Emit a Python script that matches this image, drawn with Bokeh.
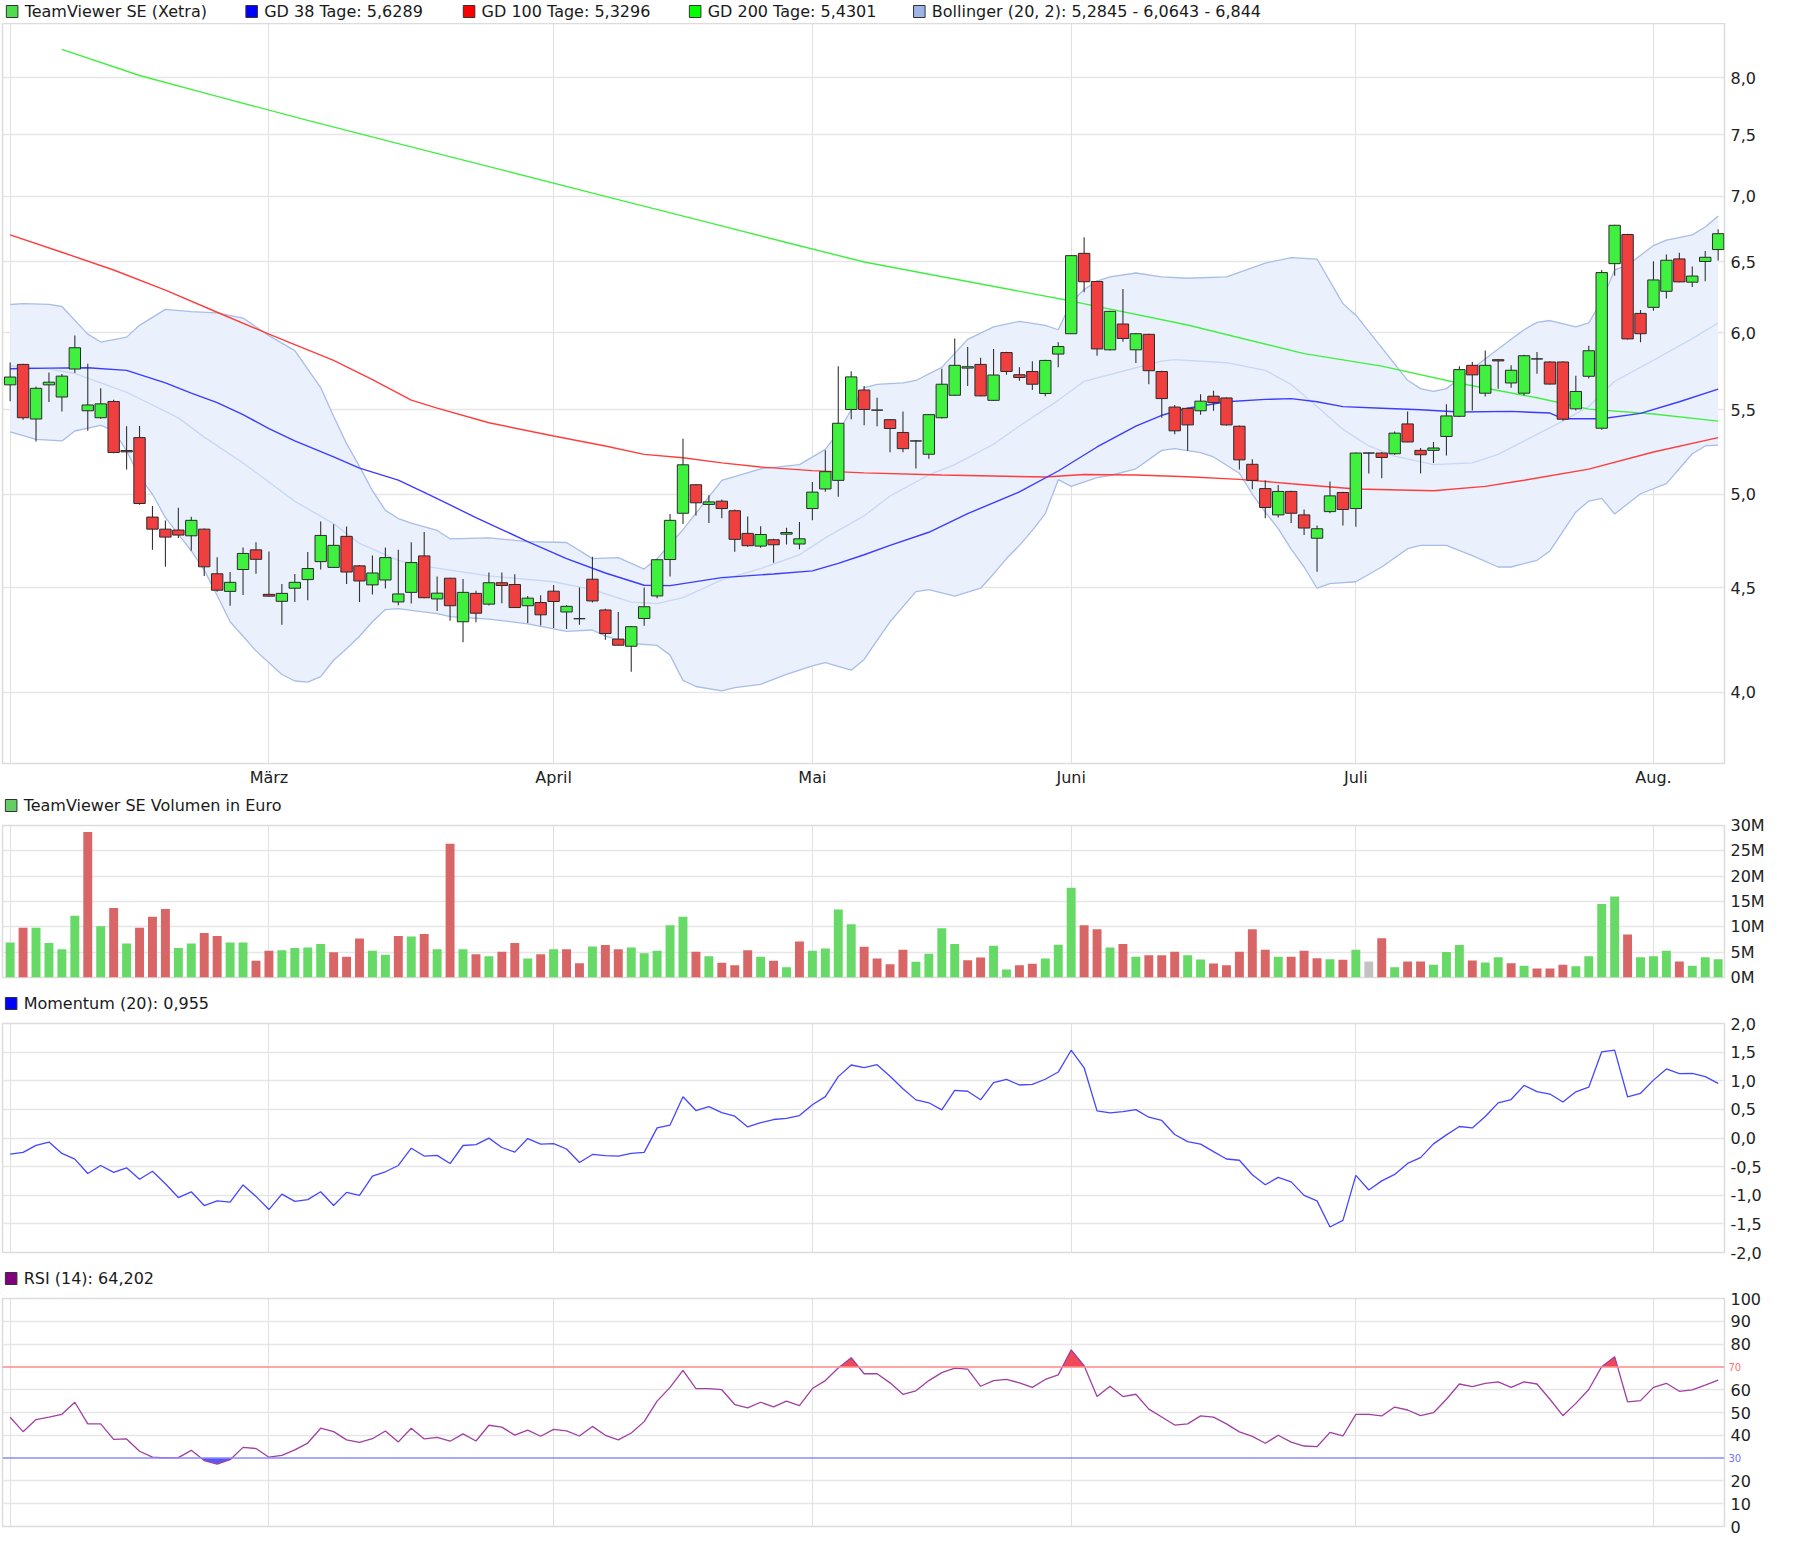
import json
import numpy as np
import pandas as pd
from bokeh.plotting import figure
from bokeh.layouts import column
from bokeh.models import Range1d, FixedTicker, CustomJSTickFormatter, Span, Label
from bokeh.embed import file_html
from bokeh.resources import INLINE
from bokeh.core.properties import value

# ---------------- data ----------------
holidays = ["2026-04-03", "2026-04-06", "2026-05-01"]
dates = [d for d in pd.bdate_range("2026-02-02", "2026-08-10") if d.strftime("%Y-%m-%d") not in holidays]
month_names = {2: "", 3: "März", 4: "April", 5: "Mai", 6: "Juni", 7: "Juli", 8: "Aug."}

open_ = [5.657, 5.789, 5.443, 5.657, 5.580, 5.759, 5.494, 5.451, 5.552, 5.253,
         5.330, 4.873, 4.807, 4.802, 4.771, 4.807, 4.571, 4.481, 4.593, 4.696,
         4.466, 4.431, 4.497, 4.541, 4.634, 4.604, 4.768, 4.612, 4.514, 4.539,
         4.428, 4.476, 4.664, 4.443, 4.548, 4.330, 4.471, 4.417, 4.525, 4.516,
         4.409, 4.425, 4.482, 4.378, 4.345, 4.543, 4.388, 4.246, 4.212, 4.346,
         4.458, 4.645, 4.894, 5.054, 4.943, 4.961, 4.908, 4.784, 4.716, 4.750,
         4.780, 4.727, 4.920, 5.030, 5.079, 5.502, 5.624, 5.498, 5.439, 5.361,
         5.310, 5.231, 5.451, 5.591, 5.765, 5.789, 5.559, 5.867, 5.722, 5.743,
         5.602, 5.857, 5.993, 6.562, 6.357, 5.885, 6.059, 5.885, 5.989, 5.743,
         5.517, 5.509, 5.494, 5.585, 5.574, 5.399, 5.172, 5.032, 4.885, 5.016,
         4.885, 4.758, 4.903, 5.010, 4.920, 5.238, 5.238, 5.234, 5.413, 5.254,
         5.254, 5.337, 5.460, 5.783, 5.604, 5.820, 5.669, 5.604, 5.825, 5.805,
         5.805, 5.506, 5.712, 5.387, 6.486, 6.703, 6.132, 6.174, 6.287, 6.521,
         6.352, 6.502, 6.590]
high = [5.802, 5.793, 5.646, 5.737, 5.726, 5.981, 5.793, 5.635, 5.563, 5.399,
        5.401, 4.934, 4.854, 4.925, 4.875, 4.811, 4.657, 4.580, 4.709, 4.737,
        4.687, 4.518, 4.570, 4.684, 4.848, 4.834, 4.821, 4.616, 4.666, 4.709,
        4.696, 4.737, 4.791, 4.557, 4.551, 4.544, 4.484, 4.578, 4.578, 4.569,
        4.458, 4.461, 4.513, 4.411, 4.501, 4.660, 4.394, 4.378, 4.309, 4.501,
        4.647, 4.890, 5.323, 5.058, 4.995, 4.970, 4.915, 4.876, 4.823, 4.755,
        4.814, 4.846, 5.069, 5.254, 5.777, 5.745, 5.650, 5.576, 5.443, 5.490,
        5.316, 5.474, 5.761, 5.961, 5.904, 5.833, 5.891, 5.872, 5.770, 5.809,
        5.820, 5.935, 6.550, 6.683, 6.362, 6.150, 6.304, 5.998, 5.993, 5.748,
        5.530, 5.513, 5.598, 5.620, 5.578, 5.403, 5.201, 5.079, 5.053, 5.020,
        4.915, 4.827, 5.073, 5.014, 5.242, 5.242, 5.244, 5.367, 5.490, 5.268,
        5.304, 5.535, 5.777, 5.805, 5.881, 5.825, 5.783, 5.853, 5.870, 5.809,
        5.809, 5.716, 5.913, 6.440, 6.778, 6.709, 6.155, 6.503, 6.554, 6.567,
        6.465, 6.580, 6.742]
low = [5.554, 5.439, 5.306, 5.548, 5.490, 5.733, 5.372, 5.445, 5.237, 5.142,
       4.941, 4.696, 4.607, 4.759, 4.693, 4.559, 4.479, 4.409, 4.463, 4.571,
       4.455, 4.316, 4.428, 4.436, 4.593, 4.602, 4.518, 4.428, 4.465, 4.495,
       4.412, 4.420, 4.446, 4.383, 4.335, 4.231, 4.327, 4.410, 4.422, 4.398,
       4.324, 4.312, 4.300, 4.295, 4.316, 4.425, 4.243, 4.215, 4.093, 4.311,
       4.447, 4.557, 4.835, 4.881, 4.840, 4.867, 4.686, 4.713, 4.707, 4.628,
       4.725, 4.699, 4.855, 5.014, 4.986, 5.442, 5.405, 5.399, 5.243, 5.243,
       5.148, 5.204, 5.447, 5.587, 5.650, 5.585, 5.556, 5.722, 5.683, 5.624,
       5.585, 5.770, 5.991, 6.281, 5.846, 5.880, 5.939, 5.798, 5.661, 5.451,
       5.350, 5.251, 5.470, 5.494, 5.403, 5.142, 5.028, 4.867, 4.871, 4.840,
       4.775, 4.581, 4.894, 4.827, 4.820, 5.119, 5.091, 5.228, 5.302, 5.119,
       5.179, 5.224, 5.456, 5.496, 5.583, 5.632, 5.638, 5.589, 5.729, 5.660,
       5.433, 5.496, 5.697, 5.377, 6.398, 5.954, 5.935, 6.150, 6.236, 6.352,
       6.317, 6.359, 6.510]
close = [5.707, 5.451, 5.635, 5.674, 5.713, 5.899, 5.530, 5.537, 5.241, 5.245,
         4.948, 4.807, 4.764, 4.775, 4.855, 4.607, 4.487, 4.527, 4.677, 4.646,
         4.457, 4.471, 4.527, 4.598, 4.773, 4.720, 4.580, 4.534, 4.575, 4.655,
         4.468, 4.629, 4.449, 4.472, 4.409, 4.476, 4.372, 4.525, 4.511, 4.400,
         4.447, 4.364, 4.430, 4.406, 4.345, 4.433, 4.273, 4.217, 4.306, 4.404,
         4.644, 4.855, 5.169, 4.952, 4.957, 4.920, 4.752, 4.718, 4.778, 4.723,
         4.789, 4.755, 5.012, 5.129, 5.417, 5.708, 5.502, 5.498, 5.385, 5.264,
         5.310, 5.470, 5.661, 5.783, 5.774, 5.587, 5.720, 5.743, 5.704, 5.661,
         5.815, 5.907, 6.545, 6.355, 5.891, 6.146, 5.961, 5.993, 5.748, 5.570,
         5.371, 5.407, 5.554, 5.545, 5.407, 5.198, 5.079, 4.926, 5.016, 4.894,
         4.813, 4.809, 4.991, 4.915, 5.238, 5.238, 5.212, 5.357, 5.304, 5.228,
         5.268, 5.462, 5.755, 5.721, 5.783, 5.812, 5.751, 5.846, 5.825, 5.662,
         5.442, 5.615, 5.879, 6.421, 6.773, 5.958, 5.993, 6.368, 6.511, 6.354,
         6.396, 6.533, 6.709]

# volume in million euro
volume_m = [6.9, 9.8, 9.8, 6.8, 5.6, 12.2, 28.7, 10.1, 13.7, 6.7,
            9.8, 12.0, 13.5, 5.8, 6.7, 8.8, 8.2, 6.9, 6.9, 3.3,
            5.3, 5.4, 5.8, 5.9, 6.6, 5.0, 4.1, 7.7, 5.3, 4.5,
            8.2, 8.1, 8.6, 5.6, 26.4, 5.6, 4.6, 4.2, 5.1, 6.8,
            3.75, 4.6, 5.6, 5.6, 2.8, 6.1, 6.4, 5.6, 5.9, 4.8,
            5.3, 10.3, 12.0, 5.1, 4.2, 2.9, 2.4, 5.4, 4.1, 3.3,
            2.0, 7.1, 5.3, 5.7, 13.4, 10.5, 6.05, 3.75, 2.6, 5.5,
            3.1, 4.7, 9.7, 6.6, 3.4, 3.95, 6.25, 1.6, 2.4, 2.7,
            3.75, 6.45, 17.7, 10.3, 9.5, 5.9, 6.6, 4.1, 4.4, 4.4,
            5.1, 4.4, 3.55, 2.75, 2.4, 5.1, 9.5, 5.5, 4.1, 4.1,
            5.3, 3.8, 3.6, 3.5, 5.5, 3.15, 7.75, 2.0, 3.15, 3.15,
            2.5, 5.05, 6.4, 3.35, 2.95, 4.0, 2.8, 2.3, 1.8, 1.8,
            2.5, 2.2, 4.2, 14.5, 16.0, 8.5, 4.0, 4.2, 5.3, 3.15,
            2.3, 4.0, 3.6]

momentum = [-0.28, -0.25, -0.13, -0.07, -0.27, -0.37, -0.62, -0.48, -0.60, -0.52,
            -0.72, -0.58, -0.80, -1.04, -0.94, -1.18, -1.10, -1.12, -0.82, -1.02,
            -1.250, -0.980, -1.108, -1.076, -0.940, -1.179, -0.950, -1.003, -0.666, -0.590,
            -0.480, -0.178, -0.315, -0.303, -0.446, -0.131, -0.115, -0.002, -0.166, -0.246,
            -0.010, -0.107, -0.097, -0.192, -0.428, -0.287, -0.307, -0.317, -0.269, -0.251,
            0.176, 0.226, 0.720, 0.480, 0.548, 0.444, 0.380, 0.193, 0.267, 0.323,
            0.342, 0.391, 0.582, 0.723, 1.072, 1.275, 1.229, 1.281, 1.079, 0.860,
            0.666, 0.615, 0.492, 0.831, 0.817, 0.667, 0.968, 1.025, 0.926, 0.938,
            1.026, 1.152, 1.533, 1.226, 0.474, 0.438, 0.459, 0.495, 0.363, 0.306,
            0.061, -0.063, -0.107, -0.238, -0.367, -0.389, -0.641, -0.817, -0.688, -0.767,
            -1.002, -1.098, -1.554, -1.440, -0.653, -0.908, -0.749, -0.636, -0.444, -0.342,
            -0.103, 0.055, 0.201, 0.176, 0.376, 0.614, 0.672, 0.920, 0.809, 0.768,
            0.629, 0.806, 0.888, 1.506, 1.535, 0.720, 0.781, 1.011, 1.207, 1.126,
            1.128, 1.071, 0.954]

rsi = [47.9, 41.6, 46.9, 48.0, 49.2, 54.5, 45.0, 45.0, 38.2, 38.4,
       33.0, 30.4, 30.1, 30.2, 33.4, 28.9, 27.4, 29.3, 34.7, 34.2,
       30.4, 31.2, 33.6, 36.6, 43.1, 41.6, 38.0, 36.9, 38.5, 41.9,
       37.1, 43.1, 38.4, 39.1, 37.4, 40.6, 37.5, 44.4, 43.6, 40.1,
       42.3, 39.6, 42.6, 41.9, 39.7, 43.9, 40.0, 38.0, 41.0, 46.0,
       55.0, 61.0, 68.5, 60.5, 60.5, 60.0, 53.5, 52.0, 54.5, 52.5,
       55.0, 53.0, 60.5, 64.0, 69.5, 74.0, 67.0, 67.0, 63.0, 58.0,
       59.5, 64.0, 67.5, 69.5, 69.0, 61.5, 64.0, 64.5, 63.0, 61.0,
       64.5, 66.5, 77.5, 70.5, 57.0, 61.5, 57.0, 58.0, 51.5, 48.0,
       44.5, 45.0, 48.5, 48.0, 45.0, 41.5, 39.5, 36.5, 40.0, 37.0,
       35.3, 35.0, 41.3, 39.7, 49.2, 49.2, 48.5, 52.4, 51.1, 48.6,
       49.9, 55.8, 62.5, 61.3, 62.8, 63.4, 61.0, 63.4, 62.5, 55.8,
       48.6, 54.0, 60.1, 70.1, 74.5, 54.7, 55.2, 61.0, 62.8, 59.3,
       59.9, 62.0, 64.2]

# moving averages / bands, read at trading-day indices
gd200_day = [4, 10, 16, 23, 30, 38, 46, 54, 60, 66, 74, 82, 91, 100, 106, 112, 118, 122, 127, 132]
gd200 = [8.26, 8.02, 7.834, 7.624, 7.427, 7.21, 6.998, 6.793, 6.643, 6.498,
         6.357, 6.218, 6.052, 5.86, 5.778, 5.667, 5.575, 5.504, 5.474, 5.43]

gd100_day = [0, 4, 8, 12, 16, 20, 25, 28, 31, 33, 37, 42, 46, 49, 52, 55, 58, 62, 66, 72,
             80, 83, 87, 91, 95, 99, 104, 110, 114, 117, 122, 127, 132]
gd100 = [6.70, 6.57, 6.44, 6.295, 6.14, 5.99, 5.815, 5.69, 5.56, 5.51,
         5.42, 5.34, 5.28, 5.23, 5.21, 5.18, 5.156, 5.135, 5.122, 5.11,
         5.098, 5.113, 5.11, 5.10, 5.085, 5.06, 5.03, 5.02, 5.045, 5.08,
         5.144, 5.244, 5.33]

gd38_day = [0, 3, 6, 9, 12, 14, 16, 18, 20, 22, 25, 27, 30, 32, 34, 36, 38, 40, 43, 46,
            49, 51, 55, 59, 62, 64, 66, 68, 71, 74, 78, 81, 84, 87, 89, 91, 94, 97, 99, 101,
            103, 106, 109, 112, 116, 119, 120, 123, 126, 129, 132]
gd38 = [5.761, 5.765, 5.767, 5.75, 5.67, 5.605, 5.545, 5.47, 5.385, 5.31,
        5.215, 5.15, 5.08, 5.01, 4.94, 4.87, 4.805, 4.74, 4.65, 4.575,
        4.512, 4.51, 4.551, 4.57, 4.586, 4.625, 4.67, 4.72, 4.79, 4.892,
        5.013, 5.133, 5.274, 5.40, 5.466, 5.51, 5.55, 5.565, 5.57, 5.55,
        5.52, 5.51, 5.50, 5.486, 5.49, 5.48, 5.445, 5.445, 5.478, 5.55,
        5.63]

bb_up_day = [0, 1, 3, 4, 6, 7, 9, 10, 12, 14, 16, 18, 20, 22, 24, 25, 26, 27, 28, 29,
             30, 31, 33, 34, 37, 40, 43, 45, 47, 49, 50, 52, 55, 58, 61, 63, 64, 65, 66, 67,
             69, 70, 72, 74, 76, 78, 80, 81, 82, 83, 84, 85, 87, 89, 91, 94, 97, 99, 101, 103,
             104, 106, 108, 109, 110, 111, 113, 115, 117, 118, 119, 121, 122, 123, 124, 125, 127, 128, 130, 131,
             132]
bb_up = [6.194, 6.20, 6.195, 6.18, 5.99, 5.937, 5.97, 6.05, 6.16, 6.145,
         6.135, 6.10, 5.98, 5.88, 5.64, 5.46, 5.294, 5.16, 5.02, 4.91,
         4.865, 4.84, 4.80, 4.755, 4.76, 4.74, 4.735, 4.65, 4.655, 4.595,
         4.65, 4.804, 5.079, 5.146, 5.17, 5.26, 5.36, 5.50, 5.64, 5.66,
         5.67, 5.685, 5.77, 5.955, 6.04, 6.077, 6.05, 6.02, 6.21, 6.30,
         6.36, 6.39, 6.418, 6.39, 6.38, 6.39, 6.49, 6.53, 6.52, 6.20,
         6.12, 5.90, 5.686, 5.633, 5.616, 5.633, 5.761, 5.89, 6.02, 6.07,
         6.083, 6.04, 6.066, 6.22, 6.44, 6.475, 6.62, 6.66, 6.70, 6.76,
         6.844]

bb_mid_day = [0, 3, 5, 7, 9, 11, 13, 15, 18, 20, 22, 25, 27, 30, 32, 34, 37, 42, 45, 48,
              50, 52, 55, 58, 61, 63, 65, 66, 68, 71, 73, 76, 78, 81, 83, 86, 89, 90, 94, 97,
              99, 101, 103, 105, 107, 110, 113, 115, 118, 120, 122, 124, 127, 130, 132]
bb_mid = [5.78, 5.76, 5.73, 5.67, 5.61, 5.53, 5.45, 5.333, 5.18, 5.07,
          4.96, 4.837, 4.73, 4.641, 4.61, 4.59, 4.56, 4.53, 4.49, 4.427,
          4.42, 4.45, 4.54, 4.598, 4.67, 4.76, 4.84, 4.88, 4.99, 5.11,
          5.17, 5.29, 5.40, 5.559, 5.68, 5.745, 5.81, 5.82, 5.80, 5.75,
          5.66, 5.52, 5.38, 5.28, 5.22, 5.17, 5.18, 5.23, 5.35, 5.43,
          5.52, 5.68, 5.816, 5.96, 6.066]

bb_low_day = [0, 2, 4, 5, 7, 8, 9, 10, 11, 12, 13, 14, 15, 16, 17, 18, 19, 21, 22, 23,
              24, 25, 26, 27, 28, 29, 30, 31, 33, 34, 37, 40, 43, 45, 46, 48, 50, 51, 52, 53,
              55, 56, 58, 60, 62, 63, 65, 66, 67, 68, 70, 71, 73, 75, 76, 77, 78, 79, 80, 81,
              82, 84, 85, 87, 89, 90, 92, 93, 95, 96, 97, 98, 99, 100, 101, 102, 104, 106, 108, 109,
              111, 113, 115, 116, 118, 119, 121, 122, 123, 124, 126, 128, 130, 131, 132]
bb_low = [5.364, 5.32, 5.31, 5.37, 5.404, 5.374, 5.25, 5.10, 5.0, 4.87,
          4.78, 4.69, 4.59, 4.46, 4.33, 4.26, 4.19, 4.08, 4.05, 4.045,
          4.07, 4.146, 4.20, 4.26, 4.33, 4.39, 4.395, 4.386, 4.37, 4.355,
          4.343, 4.32, 4.283, 4.29, 4.26, 4.225, 4.216, 4.17, 4.053, 4.025,
          4.005, 4.02, 4.035, 4.08, 4.12, 4.135, 4.10, 4.15, 4.24, 4.33,
          4.48, 4.49, 4.457, 4.497, 4.57, 4.65, 4.72, 4.80, 4.892, 5.083,
          5.045, 5.095, 5.107, 5.146, 5.254, 5.264, 5.24, 5.215, 5.12, 5.0,
          4.90, 4.81, 4.70, 4.606, 4.497, 4.52, 4.53, 4.606, 4.702, 4.72,
          4.72, 4.665, 4.606, 4.606, 4.641, 4.69, 4.90, 4.962, 4.977, 4.89,
          5.003, 5.06, 5.234, 5.28, 5.2845]

legend_main = ["TeamViewer SE (Xetra)", "GD 38 Tage: 5,6289", "GD 100 Tage: 5,3296",
               "GD 200 Tage: 5,4301", "Bollinger (20, 2): 5,2845 - 6,0643 - 6,844"]
legend_vol = "TeamViewer SE Volumen in Euro"
legend_mom = "Momentum (20): 0,955"
legend_rsi = "RSI (14): 64,202"

price_ticks = [4.0, 4.5, 5.0, 5.5, 6.0, 6.5, 7.0, 7.5, 8.0]
vol_ticks = [0, 5, 10, 15, 20, 25, 30]
mom_ticks = [-2.0, -1.5, -1.0, -0.5, 0.0, 0.5, 1.0, 1.5, 2.0]
rsi_ticks = [0, 10, 20, 40, 50, 60, 80, 90, 100]
rsi_levels = [70, 30]

# ---------------- layout / style ----------------
FONT = "DejaVu Sans"
W = 1790
BL, BR = 2, 62
n = len(close)
idx = np.arange(n)
o = np.array(open_); c = np.array(close); h = np.array(high); l = np.array(low)

month_ticks = [i for i in range(n) if i == 0 or dates[i].month != dates[i - 1].month]
month_map = {str(i): month_names[dates[i].month] for i in month_ticks}

xr = Range1d(-0.59, n - 1 + 0.49)


def style_y(ax, ticks, code):
    ax.ticker = FixedTicker(ticks=ticks)
    ax.formatter = CustomJSTickFormatter(code=code)
    ax.axis_line_color = None
    ax.major_tick_line_color = None
    ax.minor_tick_line_color = None
    ax.major_tick_out = 0
    ax.major_tick_in = 0
    ax.major_label_text_font = FONT
    ax.major_label_text_font_size = "16px"
    ax.major_label_text_color = "#222222"
    ax.major_label_standoff = 6


def panel(height, top, bottom, yr, ticks, code, ytype="linear", xaxis=False):
    f = figure(width=W, height=height, x_range=xr, y_range=yr, y_axis_type=ytype,
               y_axis_location="right", x_axis_location=("below" if xaxis else None),
               toolbar_location=None, output_backend="svg",
               min_border_left=BL, min_border_right=BR, min_border_top=top, min_border_bottom=bottom)
    f.outline_line_color = "#dcdcdc"
    f.outline_line_width = 1.5
    f.background_fill_color = "white"
    f.border_fill_color = "white"
    style_y(f.yaxis[0], ticks, code)
    f.ygrid.ticker = FixedTicker(ticks=ticks)
    f.ygrid.grid_line_color = "#e6e6e6"
    f.ygrid.grid_line_width = 1.6
    f.xgrid.ticker = FixedTicker(ticks=month_ticks)
    f.xgrid.grid_line_color = "#e0e0e0"
    f.xgrid.grid_line_width = 1
    return f


def legend_fig(height, ty, items):
    f = figure(width=W, height=height, x_range=Range1d(0, W), y_range=Range1d(0, height),
               toolbar_location=None, output_backend="svg", x_axis_location=None, y_axis_location=None,
               min_border_left=0, min_border_right=0, min_border_top=0, min_border_bottom=0)
    f.outline_line_color = None
    f.xgrid.visible = False
    f.ygrid.visible = False
    f.background_fill_color = "white"
    f.border_fill_color = "white"
    for sx, col, txt in items:
        f.rect(x=[sx + 6], y=[ty], width=12, height=12, fill_color=col, line_color="#333333", line_width=1)
        f.text(x=[sx + 19], y=[ty], text=[txt], text_font=value(FONT), text_font_size="16px",
               text_baseline="middle", text_align="left", text_color="#1a1a1a")
    return f


num1 = "return tick.toFixed(1).replace('.', ',');"

# ---------- main price panel ----------
main = panel(767, 0, 27, Range1d(3.69, 8.505), price_ticks, num1, ytype="log", xaxis=True)
xa = main.xaxis[0]
xa.ticker = FixedTicker(ticks=month_ticks)
xa.formatter = CustomJSTickFormatter(code="const m = %s; const k = String(Math.round(tick)); return (k in m) ? m[k] : '';" % json.dumps(month_map))
xa.axis_line_color = None
xa.major_tick_line_color = None
xa.minor_tick_line_color = None
xa.major_tick_out = 0
xa.major_tick_in = 0
xa.major_label_text_font = FONT
xa.major_label_text_font_size = "16px"
xa.major_label_text_color = "#222222"
xa.major_label_standoff = 4

band_x = list(bb_up_day) + list(bb_low_day)[::-1]
band_y = list(bb_up) + list(bb_low)[::-1]
main.patch(band_x, band_y, fill_color="#eaf0fc", line_color=None)
main.line(bb_up_day, bb_up, line_color="#a9bde8", line_width=1.3)
main.line(bb_low_day, bb_low, line_color="#a9bde8", line_width=1.3)
main.line(bb_mid_day, bb_mid, line_color="#c8d7f5", line_width=1.3)
main.line(gd200_day, gd200, line_color="#40f040", line_width=1.4)
main.line(gd100_day, gd100, line_color="#ff3d3d", line_width=1.4)
main.line(gd38_day, gd38, line_color="#3c3cff", line_width=1.4)

main.segment(x0=idx, y0=l, x1=idx, y1=h, line_color="#333333", line_width=1.1)
ccol = ["#3ff03f" if cc > oo else ("#f03f3f" if cc < oo else "#333333") for oo, cc in zip(o, c)]
main.vbar(x=idx, width=0.88, top=np.maximum(o, c), bottom=np.minimum(o, c),
          fill_color=ccol, line_color="#2b2b2b", line_width=1)

# ---------- volume ----------
vol = panel(172, 10, 10, Range1d(0, 30), vol_ticks, "return tick.toFixed(0) + 'M';")
vcol = []
for i in range(n):
    if i == 0 or c[i] > c[i - 1]:
        vcol.append("#66d966")
    elif c[i] < c[i - 1]:
        vcol.append("#d96666")
    else:
        vcol.append("#c2c2c2")
vol.vbar(x=idx, width=0.69, top=volume_m, bottom=0, fill_color=vcol, line_color=None)

# ---------- momentum ----------
mom = panel(249, 10, 10, Range1d(-2, 2), mom_ticks, num1)
mom.line(idx, momentum, line_color="#4646ff", line_width=1.3)

# ---------- RSI ----------
rs = panel(250, 10, 12, Range1d(0, 100), rsi_ticks, "return tick.toFixed(0);")


def crossing_fill(xs, ys, level, above):
    px, py = [], []
    for k in range(len(xs)):
        if k > 0:
            y0, y1 = ys[k - 1], ys[k]
            if (y0 - level) * (y1 - level) < 0:
                t = (level - y0) / (y1 - y0)
                px.append(xs[k - 1] + t * (xs[k] - xs[k - 1]))
                py.append(level)
        px.append(xs[k])
        py.append(ys[k])
    py = np.array(py, dtype=float)
    py = np.maximum(py, level) if above else np.minimum(py, level)
    return np.array(px, dtype=float), py


fx, fy = crossing_fill(list(idx), rsi, rsi_levels[0], True)
rs.varea(x=fx, y1=np.full(len(fx), float(rsi_levels[0])), y2=fy, fill_color="#f04a5a")
fx2, fy2 = crossing_fill(list(idx), rsi, rsi_levels[1], False)
rs.varea(x=fx2, y1=fy2, y2=np.full(len(fx2), float(rsi_levels[1])), fill_color="#5a5af0")
rs.add_layout(Span(location=rsi_levels[0], dimension="width", line_color="#ff8a8a", line_width=1.5))
rs.add_layout(Span(location=rsi_levels[1], dimension="width", line_color="#8a8aff", line_width=1.5))
rs.line(idx, rsi, line_color="#a040a0", line_width=1.3)
for lev, colr in zip(rsi_levels, ["#ff7070", "#7070ff"]):
    rs.add_layout(Label(x=n - 1 + 0.49, x_offset=4, y=lev, text=str(lev),
                        text_font=FONT, text_font_size="10px", text_baseline="middle",
                        text_color=colr), "right")

# ---------- legends ----------
leg1 = legend_fig(23, 12, [(4, "#4fdc4f", legend_main[0]), (253, "#0000ff", legend_main[1]),
                           (479, "#ff0000", legend_main[2]), (714, "#00ff00", legend_main[3]),
                           (947, "#9fb4e6", legend_main[4])])
leg2 = legend_fig(25, 10, [(3, "#66cc66", legend_vol)])
leg3 = legend_fig(26, 10, [(3, "#0000ff", legend_mom)])
leg4 = legend_fig(26, 10, [(3, "#800080", legend_rsi)])

page = column(leg1, main, leg2, vol, leg3, mom, leg4, rs, spacing=0)

open("out.html", "w").write(file_html(page, INLINE))
